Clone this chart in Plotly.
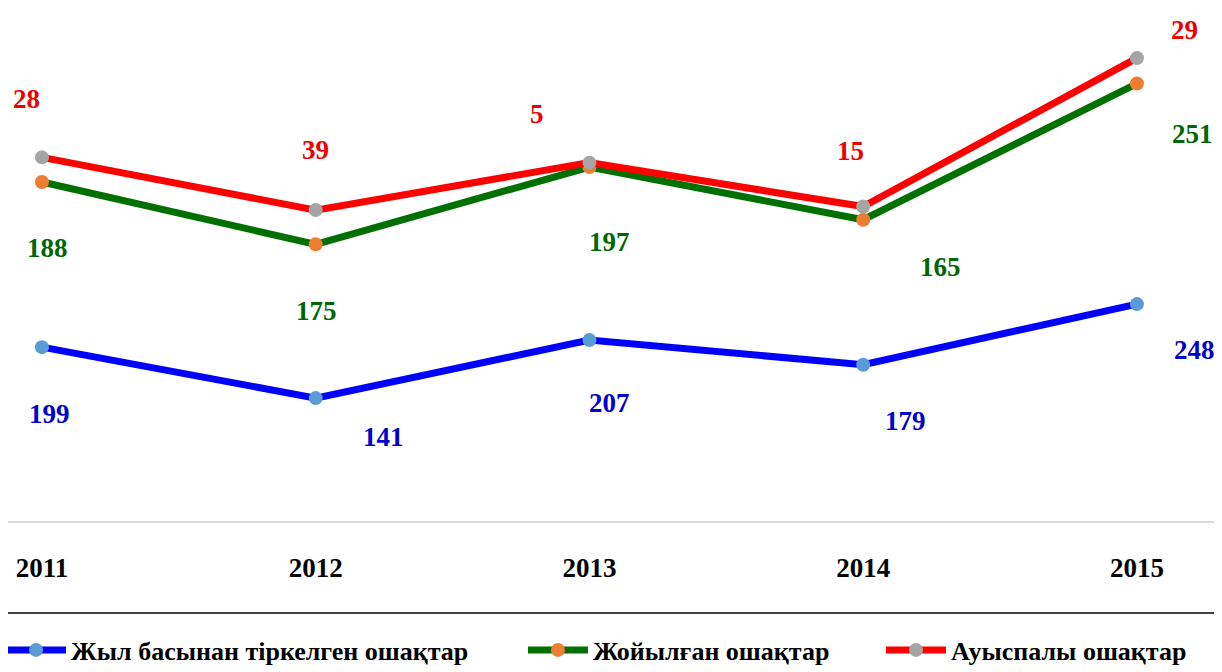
import plotly.graph_objects as go

years = ["2011", "2012", "2013", "2014", "2015"]
registered = [199, 141, 207, 179, 248]      # Жыл басынан тіркелген ошақтар
eliminated = [188, 175, 197, 165, 251]      # Жойылған ошақтар
transitional = [28, 39, 5, 15, 29]          # Ауыспалы ошақтар
names = ["Жыл басынан тіркелген ошақтар", "Жойылған ошақтар", "Ауыспалы ошақтар"]

# stacked totals
s1 = registered
s2 = [a + b for a, b in zip(s1, eliminated)]
s3 = [a + b for a, b in zip(s2, transitional)]

line_colors = ["#0000FF", "#007000", "#FF0000"]
marker_colors = ["#5B9BD5", "#ED7D31", "#A5A5A5"]
label_colors = ["#0000CC", "#006600", "#EE0000"]

# label offsets (style) in pixels: (xshift, yshift)
off_blue = [(8, -67), (68, -39), (20, -63), (42, -56), (58, -46)]
off_green = [(6, -66), (1, -67), (20, -75), (77, -47), (56, -50)]
off_red = [(-15, 58), (0, 60), (-52, 49), (-13, 56), (48, 28)]

FONT = "Liberation Serif, Times New Roman, serif"
legend_ids = ["legend", "legend2", "legend3"]
legend_x = [-0.0057, 0.4214, 0.7144]

fig = go.Figure()
for ys, nm, lc, mc, lg in zip([s1, s2, s3], names, line_colors, marker_colors, legend_ids):
    fig.add_trace(go.Scatter(
        x=years, y=ys, name=nm, mode="lines+markers",
        line=dict(color=lc, width=7),
        marker=dict(color=mc, size=14, line=dict(width=0)),
        legend=lg,
    ))

annotations = []
for ys, vals, offs, col in zip([s1, s2, s3], [registered, eliminated, transitional],
                               [off_blue, off_green, off_red], label_colors):
    for i, (y, v, (dx, dy)) in enumerate(zip(ys, vals, offs)):
        annotations.append(dict(
            x=i, y=y, xref="x", yref="y", text=str(v), showarrow=False,
            xshift=dx, yshift=dy,
            font=dict(family=FONT, size=27, color=col, weight="bold"),
        ))

legend_font = dict(family=FONT, size=26, color="black", weight="bold")
legend_common = dict(orientation="h", y=-0.249, yanchor="middle", xanchor="left",
                     font=legend_font, bgcolor="rgba(0,0,0,0)", itemwidth=60)

fig.update_layout(
    width=1222, height=672,
    margin=dict(l=0, r=0, t=0, b=158, autoexpand=False),
    paper_bgcolor="white", plot_bgcolor="white",
    showlegend=True,
    legend=dict(x=legend_x[0], **legend_common),
    legend2=dict(x=legend_x[1], **legend_common),
    legend3=dict(x=legend_x[2], **legend_common),
    annotations=annotations,
    shapes=[dict(type="line", xref="paper", yref="paper", x0=0, x1=1,
                 y0=-0.177, y1=-0.177, line=dict(color="#404040", width=2))],
    xaxis=dict(
        type="category", range=[-0.124, 4.34],
        showgrid=False, zeroline=False, showline=False,
        tickfont=dict(family=FONT, size=27, color="black", weight="bold"),
        ticks="", ticklabelstandoff=27,
    ),
    yaxis=dict(
        range=[0, 585], showticklabels=False, showgrid=False,
        zeroline=True, zerolinecolor="#D9D9D9", zerolinewidth=2,
        showline=False, ticks="",
    ),
)

fig.write_html("out.html")
